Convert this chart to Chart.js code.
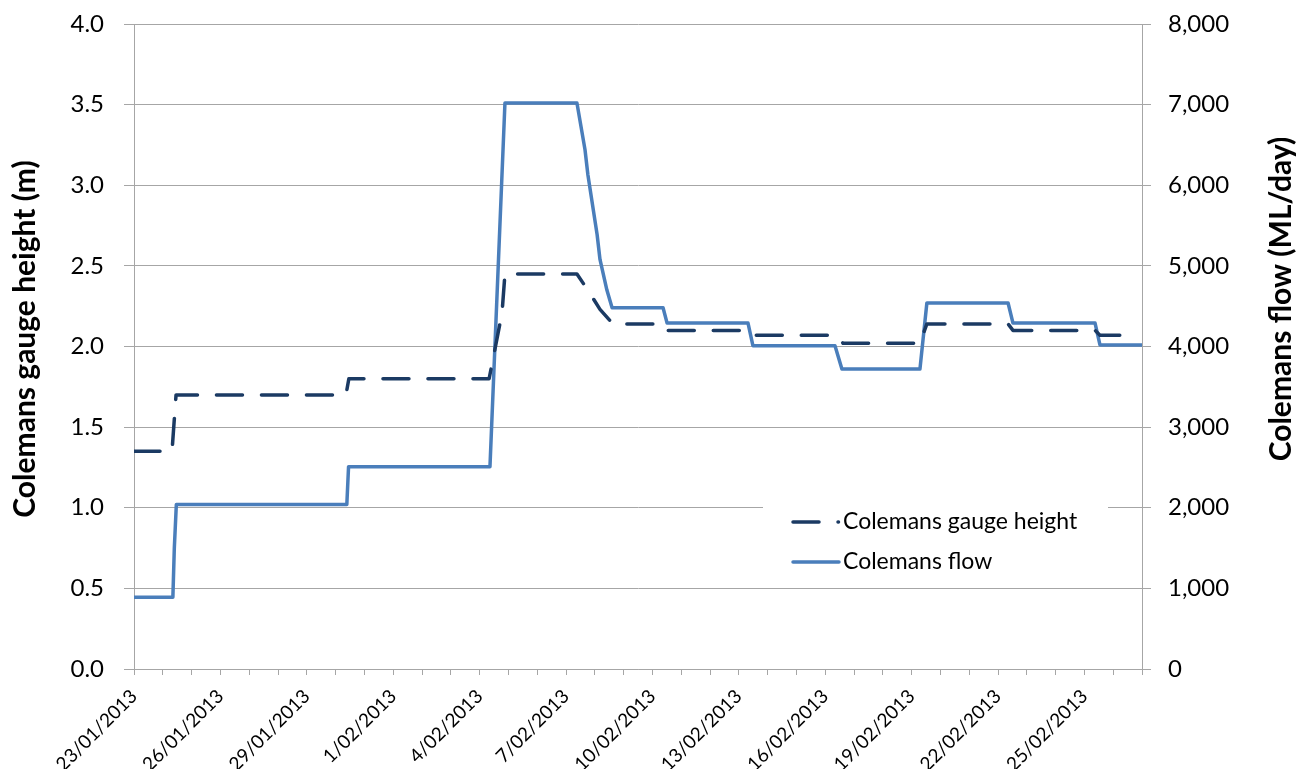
<!DOCTYPE html>
<html>
<head>
<meta charset="utf-8">
<title>Colemans gauge height and flow</title>
<script src="https://cdn.jsdelivr.net/npm/chart.js@4.4.1/dist/chart.umd.min.js"></script>
<style>
  html, body { margin: 0; padding: 0; background: #ffffff; }
  #wrap { width: 1303px; height: 769px; position: relative; }
</style>
</head>
<body>
<div id="wrap"><canvas id="chart" width="1303" height="769"></canvas></div>
<script>
// Period start; x values are days elapsed since 23/01/2013 00:00
const startYear = 2013, startMonth = 0, startDay = 23;
const periodDays = 35;

// Colemans gauge height (m)
const gaugeDays   = [0, 1.32, 1.46, 7.36, 7.46, 12.33, 12.53, 12.78, 12.88, 15.38, 15.83, 16.18, 16.63,
                     18.33, 18.47, 21.32, 21.49, 24.38, 24.62, 27.29, 27.53, 30.35, 30.52, 33.37, 33.54, 34.3];
const gaugeHeight = [1.35, 1.35, 1.70, 1.70, 1.80, 1.80, 1.98, 2.21, 2.45, 2.45, 2.33, 2.23, 2.14,
                     2.14, 2.10, 2.10, 2.07, 2.07, 2.02, 2.02, 2.14, 2.14, 2.10, 2.10, 2.07, 2.07];

// Colemans flow (ML/day)
const flowDays   = [0, 1.35, 1.40, 1.47, 7.39, 7.45, 12.36, 12.88, 15.38, 15.66, 15.76, 16.08, 16.18, 16.42,
                    16.60, 18.37, 18.51, 21.32, 21.49, 24.34, 24.58, 27.29, 27.53, 30.35, 30.52, 33.37, 33.54, 35];
const flowValues = [890, 890, 1500, 2040, 2040, 2510, 2510, 7020, 7020, 6440, 6130, 5390, 5080, 4700,
                    4480, 4480, 4290, 4290, 4010, 4010, 3720, 3720, 4540, 4540, 4290, 4290, 4020, 4020];

// Axis settings
const heightMax = 4, heightStep = 0.5;
const flowMax = 8000, flowStep = 1000;
const labelEveryDays = 3;

const seriesNames = ['Colemans gauge height', 'Colemans flow'];
const leftTitle = 'Colemans gauge height (m)';
const rightTitle = 'Colemans flow (ML/day)';

const gaugeColor = '#1B3A63';
const flowColor = '#4A7EBB';
const gridColor = '#A6A6A6';
const FONT = 'Lato, "Open Sans", sans-serif';
const gaugeDash = [26, 19];

function dayLabel(v) {
  const d = new Date(startYear, startMonth, startDay + v);
  const mm = String(d.getMonth() + 1).padStart(2, '0');
  return d.getDate() + '/' + mm + '/' + d.getFullYear();
}

const gaugeData = gaugeDays.map((d, i) => ({ x: d, y: gaugeHeight[i] }));
const flowData = flowDays.map((d, i) => ({ x: d, y: flowValues[i] }));

// keep the vertical axes from reserving extra room above/below the plot
function fixVertical(width) {
  return function (s) {
    s.width = width;
    s.paddingTop = 0;
    s.paddingBottom = 0;
  };
}

// Axis titles and the inset legend
const decorations = {
  id: 'decorations',
  afterDraw(chart) {
    const ctx = chart.ctx;
    ctx.save();

    // axis titles, both reading bottom to top
    ctx.fillStyle = '#000';
    ctx.font = 'bold 30px ' + FONT;
    ctx.textAlign = 'center';
    ctx.textBaseline = 'middle';
    ctx.save();
    ctx.translate(25, 339);
    ctx.rotate(-Math.PI / 2);
    ctx.fillText(leftTitle, 0, 0);
    ctx.restore();
    ctx.save();
    ctx.translate(1281, 299);
    ctx.rotate(-Math.PI / 2);
    ctx.fillText(rightTitle, 0, 0);
    ctx.restore();

    // legend box inside the plot area
    const lx = 763, ly = 498, lw = 345, lh = 86;
    ctx.fillStyle = '#ffffff';
    ctx.fillRect(lx, ly, lw, lh);

    const rowY = [522, 562];
    const sx0 = 793, sx1 = 838.5;
    ctx.lineWidth = 3.5;
    ctx.lineCap = 'round';
    ctx.strokeStyle = gaugeColor;
    ctx.setLineDash(gaugeDash);
    ctx.beginPath();
    ctx.moveTo(sx0, rowY[0]);
    ctx.lineTo(sx1, rowY[0]);
    ctx.stroke();
    ctx.setLineDash([]);
    ctx.strokeStyle = flowColor;
    ctx.beginPath();
    ctx.moveTo(sx0, rowY[1]);
    ctx.lineTo(839, rowY[1]);
    ctx.stroke();

    ctx.fillStyle = '#000';
    ctx.font = '23px ' + FONT;
    ctx.textAlign = 'left';
    ctx.textBaseline = 'middle';
    ctx.fillText(seriesNames[0], 843, rowY[0]);
    ctx.fillText(seriesNames[1], 843, rowY[1]);
    ctx.restore();
  }
};

new Chart(document.getElementById('chart'), {
  type: 'line',
  data: {
    datasets: [
      {
        label: seriesNames[0],
        data: gaugeData,
        yAxisID: 'y',
        borderColor: gaugeColor,
        borderWidth: 3.5,
        borderDash: gaugeDash,
        borderCapStyle: 'round',
        borderJoinStyle: 'round',
        pointRadius: 0,
        tension: 0,
        fill: false
      },
      {
        label: seriesNames[1],
        data: flowData,
        yAxisID: 'y1',
        borderColor: flowColor,
        borderWidth: 3.5,
        borderCapStyle: 'round',
        borderJoinStyle: 'round',
        pointRadius: 0,
        tension: 0,
        fill: false
      }
    ]
  },
  options: {
    responsive: false,
    animation: false,
    devicePixelRatio: 1,
    layout: { padding: { top: 24, left: 0, right: 0, bottom: 0 } },
    plugins: {
      legend: { display: false },
      tooltip: { enabled: false }
    },
    scales: {
      x: {
        type: 'linear',
        min: 0,
        max: periodDays,
        afterFit(s) { s.height = 100; },
        border: { color: gridColor, width: 1 },
        grid: { drawOnChartArea: false, drawTicks: true, tickLength: 6, color: gridColor },
        ticks: {
          stepSize: 1,
          maxTicksLimit: 100,
          autoSkip: false,
          minRotation: 45,
          maxRotation: 45,
          padding: 10,
          color: '#000',
          font: { family: FONT, size: 19 },
          callback: (v) => (v % labelEveryDays === 0 ? dayLabel(v) : '')
        }
      },
      y: {
        position: 'left',
        min: 0,
        max: heightMax,
        afterFit: fixVertical(134),
        border: { color: gridColor, width: 1 },
        grid: { color: gridColor, lineWidth: 1, tickLength: 10 },
        ticks: {
          stepSize: heightStep,
          padding: 20,
          color: '#000',
          font: { family: FONT, size: 24 },
          callback: (v) => v.toFixed(1)
        }
      },
      y1: {
        position: 'right',
        min: 0,
        max: flowMax,
        afterFit: fixVertical(161),
        border: { color: gridColor, width: 1 },
        grid: { drawOnChartArea: false, color: gridColor, tickLength: 9 },
        ticks: {
          stepSize: flowStep,
          padding: 17,
          color: '#000',
          font: { family: FONT, size: 24 },
          callback: (v) => v.toLocaleString('en-US')
        }
      }
    }
  },
  plugins: [decorations]
});
</script>
</body>
</html>
